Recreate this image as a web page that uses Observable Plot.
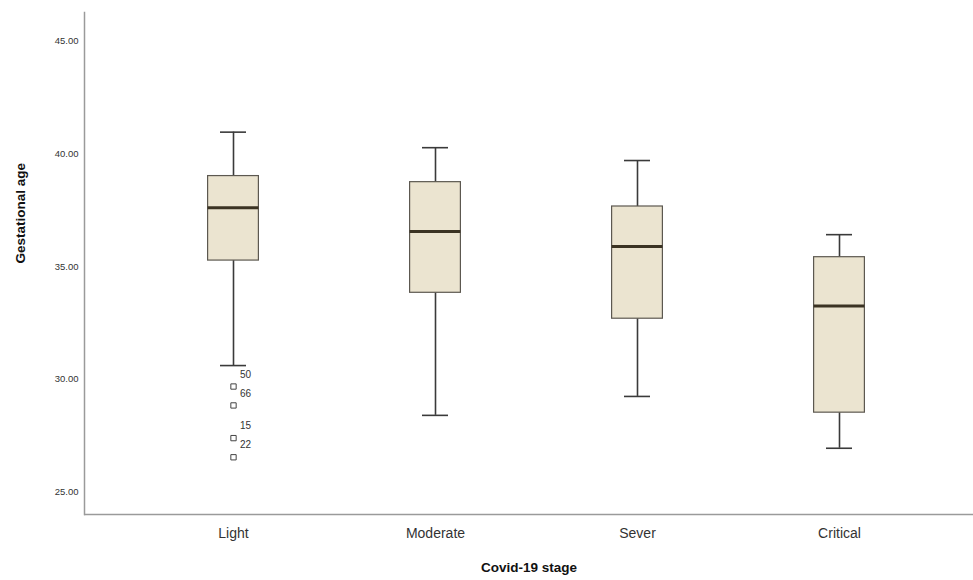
<!DOCTYPE html>
<html>
<head>
<meta charset="utf-8">
<script src="https://cdn.jsdelivr.net/npm/d3@7"></script>
<script src="https://cdn.jsdelivr.net/npm/@observablehq/plot@0.6"></script>
<style>
  html, body { margin: 0; padding: 0; background: #fff; }
  svg { font-family: "Liberation Sans", Arial, sans-serif; }
</style>
</head>
<body>
<div id="chart"></div>
<script>
const categories = ["Light", "Moderate", "Sever", "Critical"];
const lowerWhisker = [30.61, 28.40, 29.24, 26.94];
const q1 = [35.27, 33.84, 32.69, 28.52];
const median = [37.61, 36.56, 35.90, 33.25];
const q3 = [39.02, 38.75, 37.67, 35.42];
const upperWhisker = [40.97, 40.28, 39.71, 36.42];
const outlierCategory = ["Light", "Light", "Light", "Light"];
const outlierValue = [29.68, 28.84, 27.39, 26.54];
const outlierId = ["50", "66", "15", "22"];
const yTicks = [25, 30, 35, 40, 45];

const boxes = categories.map((c, i) => ({
  cat: c, lo: lowerWhisker[i], q1: q1[i], med: median[i], q3: q3[i], hi: upperWhisker[i]
}));
const outliers = outlierValue.map((v, i) => ({cat: outlierCategory[i], v, id: outlierId[i]}));

const boxInset = 75.6;
const capInset = 88;

const chart = Plot.plot({
  width: 973,
  height: 580,
  marginTop: 12,
  marginBottom: 66,
  marginLeft: 84,
  marginRight: 0,
  x: {domain: categories, range: [131, 940], padding: 0, axis: null},
  y: {domain: [24, 46.28], axis: null},
  marks: [
    // axis lines
    Plot.frame({anchor: "left", stroke: "#9a9a9a", strokeWidth: 1.5}),
    Plot.ruleY([24], {stroke: "#9a9a9a", strokeWidth: 1.5}),
    // whiskers
    Plot.ruleX(boxes, {x: "cat", y1: "q3", y2: "hi", stroke: "#3a3a3a", strokeWidth: 1.6}),
    Plot.ruleX(boxes, {x: "cat", y1: "lo", y2: "q1", stroke: "#3a3a3a", strokeWidth: 1.6}),
    Plot.tickY(boxes, {x: "cat", y: "hi", stroke: "#3a3a3a", strokeWidth: 1.6, insetLeft: capInset, insetRight: capInset}),
    Plot.tickY(boxes, {x: "cat", y: "lo", stroke: "#3a3a3a", strokeWidth: 1.6, insetLeft: capInset, insetRight: capInset}),
    // boxes
    Plot.rectY(boxes, {x: "cat", y1: "q1", y2: "q3", fill: "#ebe4d0", stroke: "#5c5850", strokeWidth: 1.2, insetLeft: boxInset, insetRight: boxInset}),
    // median
    Plot.tickY(boxes, {x: "cat", y: "med", stroke: "#3b3323", strokeWidth: 3, insetLeft: boxInset, insetRight: boxInset}),
    // outliers
    Plot.dot(outliers, {x: "cat", y: "v", symbol: "square", r: 3, stroke: "#444", strokeWidth: 1, fill: "white"}),
    Plot.text(outliers, {x: "cat", y: "v", text: "id", dx: 12, dy: -12, fontSize: 10, fill: "#333"}),
    // y tick labels
    Plot.axisY(yTicks, {tickSize: 0, tickPadding: 6, fontSize: 9.5, fill: "#333", tickFormat: d => d.toFixed(2), label: null}),
    // x tick labels
    Plot.axisX({tickSize: 0, tickPadding: 14, fontSize: 14, fill: "#333", label: null}),
    // axis titles
    Plot.text(["Gestational age"], {frameAnchor: "left", rotate: -90, dx: -64, fontSize: 13.5, fontWeight: "bold", fill: "#111"}),
    Plot.text(["Covid-19 stage"], {frameAnchor: "bottom", dy: 57, fontSize: 13.5, fontWeight: "bold", fill: "#111"})
  ]
});
document.getElementById("chart").appendChild(chart);
</script>
</body>
</html>
